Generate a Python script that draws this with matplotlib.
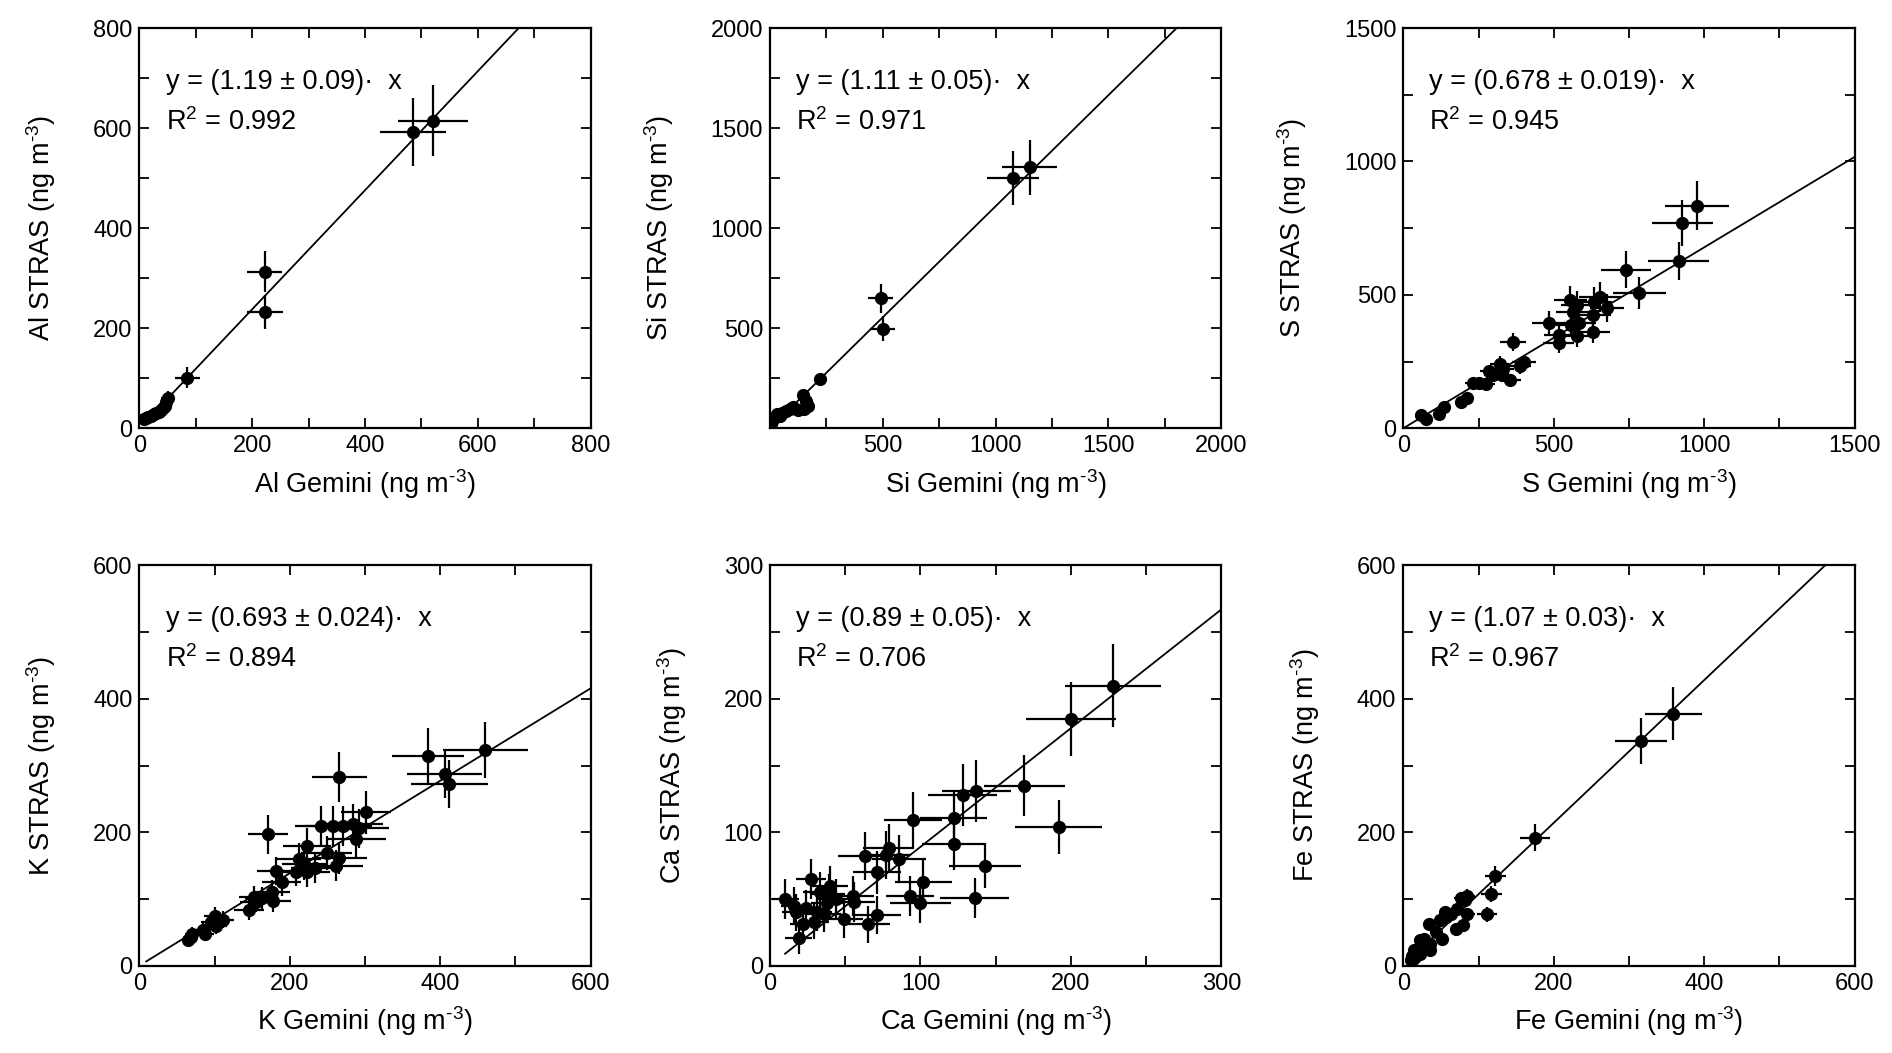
import matplotlib
matplotlib.use("Agg")
import matplotlib.pyplot as plt
from matplotlib.ticker import MultipleLocator

plt.rcParams['font.family'] = ['Liberation Sans', 'DejaVu Sans']
plt.rcParams['mathtext.fontset'] = 'custom'
plt.rcParams['mathtext.rm'] = 'Liberation Sans'
plt.rcParams['mathtext.default'] = 'regular'

# ------------------------------
# DATA
# ------------------------------
al_x = [520, 485, 222, 222, 85, 50, 47, 45, 42, 38, 35, 30, 25, 20, 16, 12, 8]
al_y = [615, 592, 313, 233, 101, 60, 52, 45, 40, 36, 33, 30, 28, 25, 22, 20, 18]
al_xerr = [62, 58, 31, 32, 22, 12, 11, 10, 10, 9, 8, 8, 7, 6, 5, 5, 4]
al_yerr = [71, 68, 41, 34, 21, 14, 12, 11, 10, 9, 8, 8, 7, 6, 6, 5, 5]

si_x = [1150, 1075, 490, 500, 220, 145, 158, 168, 150, 125, 100, 88, 70, 52, 42, 30, 18, 10, 5]
si_y = [1305, 1250, 650, 498, 246, 168, 136, 110, 95, 92, 108, 98, 86, 76, 62, 72, 50, 34, 20]
si_xerr = [122, 115, 54, 56, 25, 14, 15, 16, 14, 12, 10, 9, 8, 7, 6, 5, 4, 3, 2]
si_yerr = [138, 134, 73, 63, 22, 16, 14, 12, 11, 10, 11, 10, 9, 9, 8, 8, 6, 5, 4]

s_x = [977, 928, 915, 739, 785, 653, 678, 633, 629, 555, 565, 578, 558, 585, 629, 578, 517, 517, 483,
       365, 402, 388, 354, 327, 320, 286, 276, 252, 231, 211, 191, 136, 118, 59, 75, 299, 333]
s_y = [834, 770, 627, 595, 507, 492, 452, 473, 423, 480, 436, 461, 386, 394, 361, 344, 351, 321, 394,
       323, 248, 232, 182, 198, 242, 213, 167, 170, 169, 113, 100, 79, 54, 48, 35, 198, 223]
s_xerr = [107, 101, 100, 83, 88, 70, 57, 62, 60, 55, 58, 55, 50, 55, 58, 52, 50, 52, 55,
          44, 40, 38, 36, 34, 33, 30, 28, 26, 25, 22, 20, 15, 13, 8, 10, 32, 35]
s_yerr = [92, 85, 73, 69, 59, 55, 52, 55, 50, 55, 52, 54, 45, 46, 42, 40, 40, 38, 45,
          35, 28, 27, 22, 24, 28, 25, 20, 20, 20, 14, 12, 10, 8, 6, 5, 24, 26]

k_x = [460, 384, 406, 412, 266, 171, 301, 242, 257, 271, 284, 292, 288, 223, 249, 266, 262, 212, 219, 223,
       208, 233, 181, 189, 176, 178, 163, 152, 146, 155, 111, 100, 102, 95, 84, 87, 68, 65, 70]
k_y = [323, 315, 287, 273, 283, 197, 230, 210, 210, 210, 212, 206, 190, 180, 169, 162, 150, 160, 152, 140,
       141, 146, 142, 125, 111, 97, 101, 103, 83, 96, 69, 75, 60, 65, 54, 48, 43, 38, 48]
k_xerr = [56, 48, 50, 51, 36, 26, 33, 35, 37, 38, 40, 40, 40, 32, 34, 36, 35, 30, 30, 30,
          28, 31, 25, 26, 24, 24, 22, 20, 20, 21, 15, 14, 14, 13, 11, 12, 9, 9, 10]
k_yerr = [42, 41, 35, 36, 38, 29, 32, 30, 30, 30, 30, 29, 27, 26, 25, 24, 23, 24, 23, 22,
          22, 22, 21, 20, 18, 17, 17, 17, 15, 16, 13, 13, 12, 12, 11, 11, 10, 9, 10]

ca_x = [228, 200, 169, 192, 137, 128, 122, 122, 95, 143, 136, 102, 100, 93, 86, 79, 77, 63, 71, 71,
        65, 56, 55, 49, 44, 40, 38, 36, 33, 27, 29, 24, 22, 19, 17, 16, 10, 31, 39]
ca_y = [210, 185, 135, 104, 131, 128, 111, 91, 109, 75, 51, 63, 47, 52, 80, 88, 83, 82, 70, 38,
        31, 48, 52, 35, 50, 60, 47, 39, 55, 65, 33, 43, 31, 21, 40, 45, 50, 40, 54]
ca_xerr = [32, 30, 27, 29, 23, 23, 22, 21, 19, 24, 23, 19, 20, 16, 18, 17, 17, 18, 16, 16,
           15, 14, 14, 13, 12, 12, 11, 11, 11, 10, 10, 10, 9, 9, 9, 9, 9, 10, 11]
ca_yerr = [31, 28, 23, 20, 23, 23, 20, 19, 21, 17, 15, 17, 15, 15, 18, 18, 18, 18, 16, 14,
           14, 15, 15, 14, 15, 15, 15, 14, 15, 15, 13, 14, 13, 12, 14, 14, 15, 14, 15]

fe_x = [359, 316, 175, 122, 117, 111, 85, 82, 77, 85, 79, 70, 71, 63, 56, 57, 49, 34, 44, 52,
        35, 27, 22, 30, 35, 19, 14, 16, 11, 10, 22, 13]
fe_y = [378, 337, 192, 134, 107, 77, 104, 99, 101, 78, 61, 55, 85, 78, 80, 73, 68, 63, 50, 40,
        33, 40, 38, 28, 23, 25, 23, 13, 15, 8, 18, 10]
fe_xerr = [38, 34, 20, 14, 14, 13, 10, 10, 9, 10, 9, 8, 8, 7, 7, 7, 6, 5, 5, 6,
           5, 4, 4, 4, 4, 3, 3, 3, 3, 3, 3, 3]
fe_yerr = [40, 35, 20, 15, 12, 11, 11, 10, 10, 9, 8, 7, 9, 8, 8, 8, 7, 7, 6, 6,
           5, 5, 5, 4, 4, 4, 4, 3, 3, 3, 3, 3]

# element, data, slope, slope text, R2 text, fit line start, axis max, label step, tick step, label zero
panels = [
    ("Al", al_x, al_y, al_xerr, al_yerr, 1.19, "1.19 \u00b1 0.09", "0.992", 7, 800, 200, 100, True),
    ("Si", si_x, si_y, si_xerr, si_yerr, 1.11, "1.11 \u00b1 0.05", "0.971", 3, 2000, 500, 250, False),
    ("S", s_x, s_y, s_xerr, s_yerr, 0.678, "0.678 \u00b1 0.019", "0.945", 0, 1500, 500, 250, True),
    ("K", k_x, k_y, k_xerr, k_yerr, 0.693, "0.693 \u00b1 0.024", "0.894", 9, 600, 200, 100, True),
    ("Ca", ca_x, ca_y, ca_xerr, ca_yerr, 0.89, "0.89 \u00b1 0.05", "0.706", 10, 300, 100, 50, True),
    ("Fe", fe_x, fe_y, fe_xerr, fe_yerr, 1.07, "1.07 \u00b1 0.03", "0.967", 10, 600, 200, 100, True),
]

# axes layout (figure fractions)
COL_LEFT = [0.0737, 0.407, 0.7417]
ROW_BOTTOM = [0.5933, 0.083]
AX_W, AX_H = 0.2385, 0.380

UNIT = r" (ng m$^{\text{-3}}$)"


def draw_panel(ax, el, x, y, xerr, yerr, slope, slope_txt, r2, x0, vmax, lstep, tstep, zero_lbl):
    ax.errorbar(x, y, xerr=xerr, yerr=yerr, fmt="o", color="black", ms=8.5,
                elinewidth=1.6, capsize=0, zorder=3)
    ax.plot([x0, vmax], [slope * x0, slope * vmax], color="black", lw=1.3, zorder=2)
    ax.set_xlim(0, vmax)
    ax.set_ylim(0, vmax)
    start = 0 if zero_lbl else lstep
    ticks = list(range(start, vmax + 1, lstep))
    ax.set_xticks(ticks)
    ax.set_yticks(ticks)
    ax.xaxis.set_minor_locator(MultipleLocator(tstep))
    ax.yaxis.set_minor_locator(MultipleLocator(tstep))
    ax.tick_params(which="both", direction="in", top=True, right=True,
                   length=7, width=1.3, labelsize=17, pad=5)
    for sp in ax.spines.values():
        sp.set_linewidth(1.6)
    ax.set_xlabel(el + " Gemini" + UNIT, fontsize=19.5, labelpad=7)
    ax.set_ylabel(el + " STRAS" + UNIT, fontsize=19.5, labelpad=25)
    ax.text(0.058, 0.865, "y = (" + slope_txt + ")\u00b7  x", transform=ax.transAxes,
            fontsize=19.5, va="center", ha="left")
    ax.text(0.058, 0.765, "R$^2$ = " + r2, transform=ax.transAxes,
            fontsize=19.5, va="center", ha="left")


def main():
    fig = plt.figure(figsize=(18.92, 10.53), dpi=100)
    for i, p in enumerate(panels):
        row, col = divmod(i, 3)
        ax = fig.add_axes([COL_LEFT[col], ROW_BOTTOM[row], AX_W, AX_H])
        draw_panel(ax, *p)
    fig.savefig("out.png", dpi=100, facecolor="white")


if __name__ == "__main__":
    main()
